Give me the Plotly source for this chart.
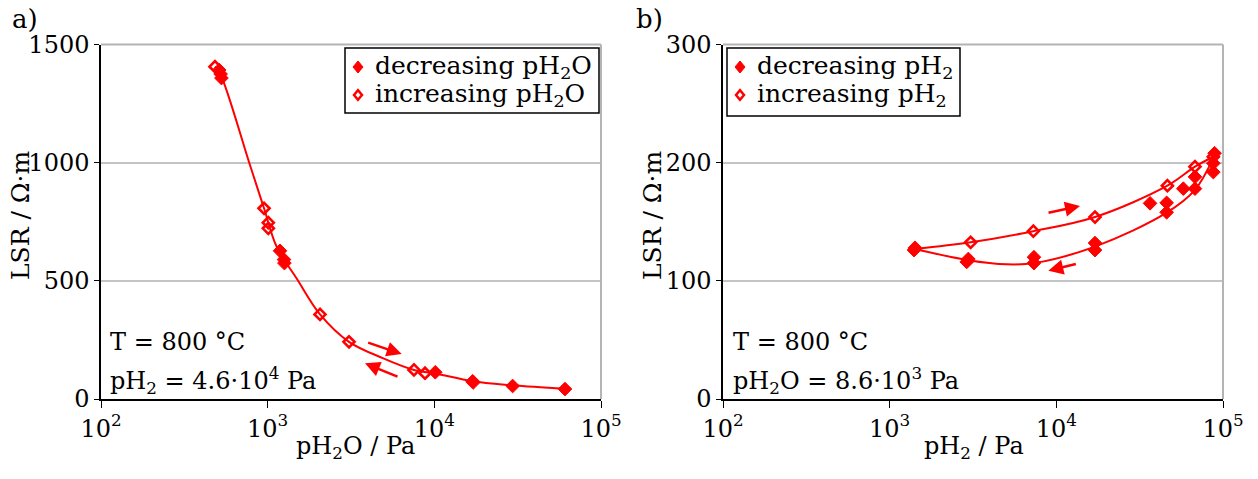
import plotly.graph_objects as go

# ---- panel a: LSR vs pH2O (pH2 = 4.6e4 Pa) ----
a_dec_x = [512, 522, 528, 1186, 1253, 1260, 10130, 16980, 17100, 29500, 60800]
a_dec_y = [1392, 1375, 1358, 627, 590, 575, 113, 75, 70, 55, 42]
a_inc_x = [483, 951, 1009, 1009, 2061, 3076, 7551, 8790]
a_inc_y = [1406, 807, 746, 722, 358, 242, 123, 109]
a_fit_x = [483, 520, 783, 951, 1133, 1493, 2061, 3076, 4943, 7551, 10130, 16980, 29500, 60800]
a_fit_y = [1406, 1375, 990, 807, 644, 510, 358, 242, 172, 123, 108, 75, 58, 43]

# ---- panel b: LSR vs pH2 (pH2O = 8.6e3 Pa) ----
b_dec_x = [1400, 1419, 2900, 2965, 7340, 7340, 17060, 17060, 36500, 45900, 45900,
           57800, 67900, 67900, 87500, 87500, 89000]
b_dec_y = [126, 128, 116, 118.5, 115, 120, 126, 132, 165.6, 158, 166,
           178, 178, 188, 192, 199.5, 208]
b_inc_x = [1419, 3061, 7280, 17060, 46380, 67900, 87500]
b_inc_y = [127, 132.6, 142, 154, 180.5, 196.6, 205]
b_up_x = [1419, 3061, 7280, 17060, 46380, 67900, 87500]
b_up_y = [127, 132.6, 142, 154, 180.5, 196.6, 205]
b_low_x = [1419, 2965, 5035, 7340, 17060, 45900, 67900, 87500]
b_low_y = [127, 117.5, 114, 115, 129, 157.7, 177, 204]

x_tickvals = [100, 1000, 10000, 100000]
x_ticktext = ["10<sup>2</sup>", "10<sup>3</sup>", "10<sup>4</sup>", "10<sup>5</sup>"]
a_yticks = [0, 500, 1000, 1500]
b_yticks = [0, 100, 200, 300]

a_legend = ["decreasing pH<sub>2</sub>O", "increasing pH<sub>2</sub>O"]
b_legend = ["decreasing pH<sub>2</sub>", "increasing pH<sub>2</sub>"]

RED = "#ff0000"
FONT = "DejaVu Serif"
FS = 24
W, H = 1258, 479

# plot-area geometry in pixels
AX0, AX1 = 101, 601
BX0, BX1 = 723, 1223
YT, YB = 44.5, 399


def px(v):
    return v / W


def py(v):
    return 1 - v / H


fig = go.Figure()


def add_panel(xa, ya, fit_sets, dec, inc):
    for fx, fy in fit_sets:
        fig.add_trace(go.Scatter(x=fx, y=fy, mode="lines", xaxis=xa, yaxis=ya,
                                 line=dict(color=RED, width=2, shape="spline", smoothing=1.0),
                                 showlegend=False, hoverinfo="skip"))
    fig.add_trace(go.Scatter(x=dec[0], y=dec[1], mode="markers", xaxis=xa, yaxis=ya,
                             marker=dict(symbol="diamond", size=10.5, color=RED,
                                         line=dict(color=RED, width=1)),
                             showlegend=False))
    fig.add_trace(go.Scatter(x=inc[0], y=inc[1], mode="markers", xaxis=xa, yaxis=ya,
                             marker=dict(symbol="diamond-open", size=8.5, color=RED,
                                         line=dict(color=RED, width=2.6)),
                             showlegend=False))


add_panel("x", "y", [(a_fit_x, a_fit_y)], (a_dec_x, a_dec_y), (a_inc_x, a_inc_y))
add_panel("x2", "y2", [(b_up_x, b_up_y), (b_low_x, b_low_y)],
          (b_dec_x, b_dec_y), (b_inc_x, b_inc_y))

xaxis_common = dict(type="log", range=[2, 5], tickvals=x_tickvals, ticktext=x_ticktext,
                    showline=True, linecolor="black", linewidth=1.5, ticks="outside",
                    ticklen=7, tickwidth=1.2, tickcolor="black", showgrid=False,
                    zeroline=False, automargin=False,
                    tickfont=dict(family=FONT, size=FS, color="black"))
yaxis_common = dict(showline=True, linecolor="black", linewidth=1.5, ticks="outside",
                    ticklen=5, tickwidth=1.2, tickcolor="black", showgrid=True,
                    gridcolor="#c4c4c4", gridwidth=1.5, zeroline=False, automargin=False,
                    tickfont=dict(family=FONT, size=FS, color="black"))

fig.update_layout(
    template="none",
    width=W, height=H, margin=dict(l=0, r=0, t=0, b=0, autoexpand=False),
    paper_bgcolor="white", plot_bgcolor="white",
    font=dict(family=FONT, size=FS, color="black"),
    xaxis=dict(xaxis_common, domain=[px(AX0), px(AX1)], anchor="y"),
    yaxis=dict(yaxis_common, domain=[py(YB), py(YT)], range=[0, 1500],
               tickvals=a_yticks, anchor="x"),
    xaxis2=dict(xaxis_common, domain=[px(BX0), px(BX1)], anchor="y2"),
    yaxis2=dict(yaxis_common, domain=[py(YB), py(YT)], range=[0, 300],
                tickvals=b_yticks, anchor="x2"),
    showlegend=False,
)

# gray frame on top and right of each plot area
for xd, yd in (("x domain", "y domain"), ("x2 domain", "y2 domain")):
    fig.add_shape(type="line", xref=xd, yref=yd, x0=0, x1=1, y0=1, y1=1,
                  line=dict(color="#b4b4b4", width=2), layer="above")
    fig.add_shape(type="line", xref=xd, yref=yd, x0=1, x1=1, y0=0, y1=1,
                  line=dict(color="#b4b4b4", width=2), layer="above")

# boxed legends: frame, diamond keys and labels
FILLED = "M0,-6 L5,0 L0,6 L-5,0 Z"
OPEN = "M0,-4.8 L4,0 L0,4.8 L-4,0 Z"
for (x0, x1, y0, y1), labels in (((345, 599, 48, 113), a_legend),
                                 ((727, 960, 48, 116), b_legend)):
    fig.add_shape(type="rect", xref="paper", yref="paper",
                  x0=px(x0), x1=px(x1), y0=py(y1), y1=py(y0),
                  fillcolor="white", line=dict(color="black", width=1.5), layer="above")
    for i, (lab, path) in enumerate(zip(labels, (FILLED, OPEN))):
        yc = y0 + 19 + 28 * i
        filled = path == FILLED
        fig.add_shape(type="path", path=path, xref="paper", yref="paper",
                      xsizemode="pixel", ysizemode="pixel",
                      xanchor=px(x0 + 13), yanchor=py(yc),
                      fillcolor=RED if filled else "white",
                      line=dict(color=RED, width=1 if filled else 2.5), layer="above")
        fig.add_annotation(x=px(x0 + 28), y=py(yc), xref="paper", yref="paper", text=lab,
                           showarrow=False, xanchor="left", yanchor="middle",
                           font=dict(family=FONT, size=25, color="black"))

txt = dict(family=FONT, size=FS, color="black")
notes = [
    (108, 342, "T = 800 °C", "left"), (108, 380, "pH<sub>2</sub> = 4.6·10<sup>4</sup> Pa", "left"),
    (731, 342, "T = 800 °C", "left"), (731, 380, "pH<sub>2</sub>O = 8.6·10<sup>3</sup> Pa", "left"),
    (355, 447, "pH<sub>2</sub>O / Pa", "center"), (974, 447, "pH<sub>2</sub> / Pa", "center"),
]
for x, y, t, anc in notes:
    fig.add_annotation(x=px(x), y=py(y), xref="paper", yref="paper", text=t,
                       showarrow=False, xanchor=anc, yanchor="middle", font=txt)
for x, t in ((10, "a)"), (634, "b)")):
    fig.add_annotation(x=px(x), y=py(19), xref="paper", yref="paper", text=t,
                       showarrow=False, xanchor="left", yanchor="middle",
                       font=dict(family=FONT, size=26, color="black"))
for x in (21, 653):
    fig.add_annotation(x=px(x), y=py(215), xref="paper", yref="paper", text="LSR / Ω·m",
                       showarrow=False, textangle=-90, xanchor="center", yanchor="middle",
                       font=dict(family=FONT, size=25, color="black"))

# direction arrows (head position in log10 units, tail as pixel offset)
arrows = [
    ("x", "y", 3.804, 190, -35, -12),
    ("x", "y", 3.584, 151, 34, 14),
    ("x2", "y2", 4.142, 163.3, -33, 7),
    ("x2", "y2", 3.952, 108.6, 29, -7),
]
for xr, yr, x, y, ax, ay in arrows:
    fig.add_annotation(x=x, y=y, xref=xr, yref=yr, ax=ax, ay=ay, text="",
                       showarrow=True, arrowhead=2, arrowsize=1.2, arrowwidth=2.5,
                       arrowcolor=RED, standoff=0, startstandoff=0)

fig.write_html("out.html")
